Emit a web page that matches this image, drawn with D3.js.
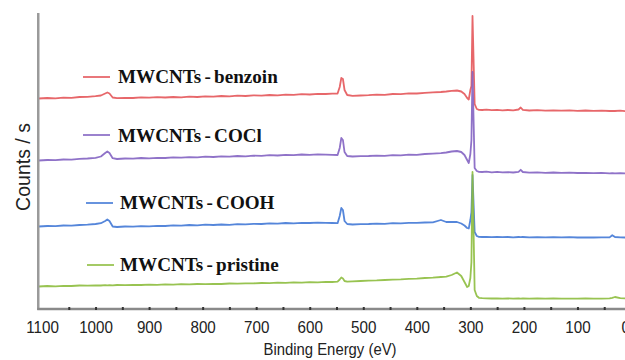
<!DOCTYPE html>
<html>
<head>
<meta charset="utf-8">
<script src="https://cdn.jsdelivr.net/npm/d3@7/dist/d3.min.js"></script>
<style>
  html, body { margin: 0; padding: 0; background: #fff; }
  svg { display: block; }
  .tick-label { font-family: "Liberation Sans", Arial, sans-serif; font-size: 16px; fill: #222; }
  .legend-text { font-family: "Liberation Serif", "Times New Roman", serif; font-weight: bold; font-size: 19.5px; fill: #111; word-spacing: -1.5px; }
</style>
</head>
<body>
<svg id="chart" width="625" height="360"></svg>
<script>
// Binding energies (eV) shared by all survey spectra, high to low
const energies = [
  1106, 1090, 1075, 1060, 1045, 1030, 1015, 1000, 990, 982, 978, 974, 968,
  960, 945, 930, 915, 900, 885, 870, 855, 840, 825, 810, 795, 780, 765, 750, 735, 720, 705, 690, 675, 660, 645, 630, 615, 600, 585, 570,
  558, 548, 544, 541, 538, 535, 530,
  520, 505, 490, 475, 460, 445, 430, 415, 400, 385, 370, 355, 345, 335, 325,
  317, 311, 306, 303, 300, 298, 296, 292, 288, 284, 278,
  270, 260, 250, 240, 230, 220, 210, 206, 202, 190, 175, 160, 145, 130, 115, 100, 85, 70, 55, 40, 35, 30, 20, 10, 0
];

// Stacked intensities (counts / s, offset per sample)
const benzoin = [
  209.5, 210, 209.7, 210.4, 210.2, 211, 211.2, 211.8, 212.5, 214.5, 215.5, 214.5, 210.5,
  209.8, 210.2, 210, 210.6, 210.3, 210.8, 210.5, 211, 210.7, 211.4, 211, 211.6, 211.3, 212, 211.7, 212.3, 212, 212.6, 212.4, 213, 212.7, 213.4, 213.1, 213.8, 213.5, 214.2, 214,
  214.4, 214.5, 221, 230, 229, 218, 213,
  212.2, 212.5, 212.8, 213.4, 213.2, 214, 213.8, 214.6, 214.5, 215.2, 215.6, 216, 216.5, 217.2, 217.5,
  216.5, 214, 210, 208.5, 218, 222, 292, 204, 199, 198.2, 198,
  198.4, 197.8, 198.2, 197.7, 198, 197.6, 198.5, 200.5, 198.2, 197.5, 197.8, 197.4, 197.7, 197.3, 197.6, 197.2, 197.5, 197.1, 197.4, 197, 197.2, 197, 197.3, 196.9, 197
];
const cocl = [
  147.5, 148, 147.8, 148.5, 148.4, 149.2, 149.5, 150.2, 151.5, 155, 156.5, 155, 149.8,
  149, 149.5, 149.3, 150, 149.7, 150.2, 150, 150.6, 150.3, 150.9, 150.7, 151.3, 151, 151.6, 151.3, 152, 151.7, 152.3, 152.1, 152.8, 152.5, 153.2, 152.9, 153.5, 153.2, 153.7, 153.4,
  153.2, 153, 160, 170, 168, 156, 152,
  151.5, 151.8, 152, 152.4, 152.2, 152.8, 152.7, 153.4, 153.2, 154, 154.4, 154.8, 155.5, 156.5, 157,
  156, 153, 148, 145, 154, 168, 236, 140, 137, 136.2, 136,
  136.3, 135.7, 136.1, 135.6, 135.9, 135.5, 136.2, 138.2, 136, 135.4, 135.7, 135.2, 135.5, 135.1, 135.4, 135, 135.2, 134.8, 135.1, 134.7, 134.9, 134.6, 134.8, 134.5, 134.6
];
const cooh = [
  81.5, 82, 81.8, 82.5, 82.3, 83, 83.4, 84, 84.8, 87, 88.5, 87, 81.5,
  81, 81.5, 81.3, 81.9, 81.7, 82.2, 82, 82.6, 82.4, 83, 82.7, 83.3, 83, 83.5, 83.2, 83.8, 83.6, 84.2, 84, 84.6, 84.4, 85, 84.7, 85.2, 85, 85.4, 85.1,
  85, 84.8, 92, 100, 98, 87, 84,
  83.5, 83.8, 84, 84.4, 84.2, 84.8, 84.7, 85.2, 85.1, 85.5, 85.7, 88, 86, 86.2, 86,
  84.5, 82.5, 80, 79.5, 88, 96, 133, 76, 72, 71.2, 71,
  71.2, 70.8, 71.1, 70.8, 71, 70.7, 71, 70.8, 71, 70.7, 70.9, 70.6, 70.8, 70.6, 70.8, 70.5, 70.7, 70.5, 70.7, 70.6, 72.8, 71, 70.6, 70.5, 70.5
];
const pristine = [
  21.5, 22, 21.7, 22.2, 22, 22.5, 22.3, 22.7, 22.5, 22.8, 22.6, 22.9, 22.7,
  23, 22.8, 23.2, 23, 23.4, 23.2, 23.6, 23.4, 23.8, 23.6, 24, 23.8, 24.2, 24, 24.5, 24.3, 24.7, 24.6, 25, 24.8, 25.3, 25.1, 25.6, 25.4, 25.9, 25.7, 26.1,
  26, 26.4, 28.5, 30.5, 29.5, 27, 26.4,
  26.7, 27, 27.4, 27.6, 28, 28.4, 28.6, 29.2, 29.4, 30, 30.4, 31, 31.4, 33, 35.5,
  32, 26, 21, 22, 30, 46, 136, 18, 12, 10.2, 9.8,
  9.7, 9.5, 9.6, 9.4, 9.6, 9.4, 9.5, 9.4, 9.6, 9.4, 9.5, 9.3, 9.5, 9.3, 9.4, 9.3, 9.5, 9.3, 9.4, 9.6, 10.2, 11, 9.8, 9.6, 9.7
];

const seriesNames = ["MWCNTs - benzoin", "MWCNTs - COCl", "MWCNTs - COOH", "MWCNTs - pristine"];
const seriesColors = ["#e4565a", "#8363c2", "#4279d6", "#8dbd3e"];
const xTickValues = [1100, 1000, 900, 800, 700, 600, 500, 400, 300, 200, 100, 0];
const xMinorTicks = [1050, 1000, 950, 900, 850, 800, 750, 700, 650, 600, 550, 500, 450, 400, 350, 300, 250, 200, 150, 100, 50];
const xTitle = "Binding Energy (eV)";
const yTitle = "Counts / s";

const svg = d3.select("#chart");
const x = d3.scaleLinear().domain([1100, 0]).range([42, 631]);
const y = d3.scaleLinear().domain([0, 300]).range([308, 8]);
const xLeft = x(1107);
const axisY = 309;

// spectra, bottom of the stack drawn last so it sits on top
const allSeries = [benzoin, cocl, cooh, pristine];
const line = d3.line().x(d => x(d[0])).y(d => y(d[1]));
allSeries.forEach((vals, i) => {
  const pts = energies.map((e, k) => [e, vals[k]]);
  svg.append("path")
    .datum(pts)
    .attr("d", line)
    .attr("fill", "none")
    .attr("stroke", seriesColors[i])
    .attr("stroke-width", 1.8)
    .attr("stroke-linejoin", "round")
    .attr("stroke-opacity", 0.9);
});

// left frame line
svg.append("line")
  .attr("x1", xLeft).attr("x2", xLeft)
  .attr("y1", y(295)).attr("y2", axisY + 1)
  .attr("stroke", "#9a9a9a").attr("stroke-width", 2.5);

// bottom axis line
svg.append("line")
  .attr("x1", xLeft - 1).attr("x2", 640)
  .attr("y1", axisY).attr("y2", axisY)
  .attr("stroke", "#8a8a8a").attr("stroke-width", 2.5);

// minor tick marks on the axis line
const minorAxis = svg.append("g")
  .attr("transform", `translate(0,${axisY + 1})`)
  .call(d3.axisBottom(x).tickValues(xMinorTicks).tickSize(-3).tickFormat(""));
minorAxis.select(".domain").remove();
minorAxis.selectAll(".tick line").attr("stroke", "#333").attr("stroke-width", 2);

// tick labels
const labelAxis = svg.append("g")
  .attr("transform", `translate(0,${axisY})`)
  .call(d3.axisBottom(x).tickValues(xTickValues).tickSize(0).tickPadding(12.5).tickFormat(d3.format("d")));
labelAxis.select(".domain").remove();
labelAxis.selectAll(".tick text")
  .attr("class", "tick-label")
  .attr("font-family", null).attr("font-size", null).attr("fill", null)
  .attr("transform", "scale(0.95,1)");
// the last label sits at the right edge of the page; pull it in so it shows
labelAxis.selectAll(".tick text").filter(d => d === 0).attr("dx", -6);

// axis titles
svg.append("text")
  .attr("class", "tick-label")
  .attr("transform", "translate(330,355) scale(0.93,1)")
  .attr("text-anchor", "middle")
  .text(xTitle);

svg.append("text")
  .attr("class", "tick-label")
  .style("font-size", "19.5px")
  .attr("transform", "translate(30,167) rotate(-90)")
  .attr("text-anchor", "middle")
  .text(yTitle);

// legend entries placed above each spectrum
const legendPos = [
  { lx: 83, ly: 77, tx: 118, ty: 83 },
  { lx: 83, ly: 135, tx: 118, ty: 142 },
  { lx: 86, ly: 203, tx: 120, ty: 209 },
  { lx: 87, ly: 265, tx: 120, ty: 271 }
];
seriesNames.forEach((name, i) => {
  const p = legendPos[i];
  svg.append("line")
    .attr("x1", p.lx).attr("x2", p.lx + 27)
    .attr("y1", p.ly).attr("y2", p.ly)
    .attr("stroke", seriesColors[i]).attr("stroke-width", 1.6);
  svg.append("text")
    .attr("class", "legend-text")
    .attr("transform", `translate(${p.tx},${p.ty}) scale(0.98,1)`)
    .text(name);
});
</script>
</body>
</html>
